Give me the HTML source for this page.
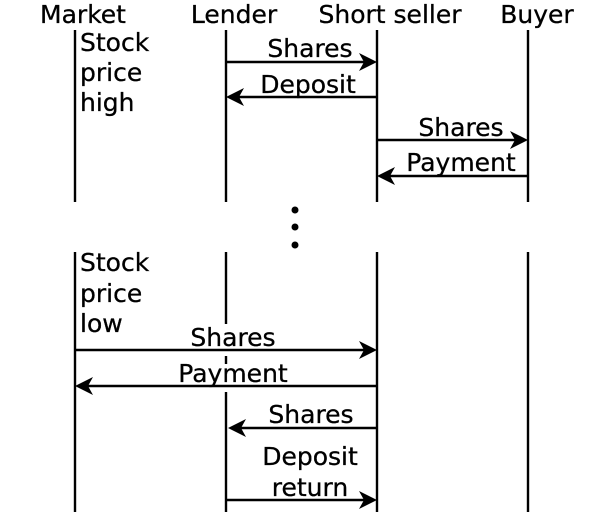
<!DOCTYPE html>
<html><head><meta charset="utf-8"><style>
html,body{margin:0;padding:0;background:#fff;}
svg{display:block;}
text{font-family:"DejaVu Sans","Liberation Sans",sans-serif;font-size:25px;fill:#000;stroke:#000;stroke-width:0.3px;}
</style></head><body>
<svg width="612" height="512" viewBox="0 0 612 512" xmlns="http://www.w3.org/2000/svg">
<g stroke="#000" stroke-width="2.4" fill="none">
<line x1="75" y1="30" x2="75" y2="202"/>
<line x1="226" y1="30" x2="226" y2="202"/>
<line x1="377" y1="30" x2="377" y2="202"/>
<line x1="528" y1="30" x2="528" y2="202"/>
<line x1="75" y1="252" x2="75" y2="512"/>
<line x1="226" y1="252" x2="226" y2="324"/>
<line x1="226" y1="356" x2="226" y2="364"/>
<line x1="226" y1="392" x2="226" y2="512"/>
<line x1="377" y1="252" x2="377" y2="512"/>
<line x1="528" y1="252" x2="528" y2="512"/>
<line x1="226" y1="62" x2="366" y2="62"/>
<line x1="237" y1="97" x2="377" y2="97"/>
<line x1="377" y1="140" x2="517" y2="140"/>
<line x1="388" y1="176" x2="528" y2="176"/>
<line x1="75" y1="350" x2="366" y2="350"/>
<line x1="86" y1="386" x2="377" y2="386"/>
<line x1="239" y1="428" x2="377" y2="428"/>
<line x1="226" y1="500" x2="366" y2="500"/>
</g>
<g fill="#000">
<path d="M377,62 l-18,-9 l5,9 l-5,9 z"/>
<path d="M226,97 l18,-9 l-5,9 l5,9 z"/>
<path d="M528,140 l-18,-9 l5,9 l-5,9 z"/>
<path d="M377,176 l18,-9 l-5,9 l5,9 z"/>
<path d="M377,350 l-18,-9 l5,9 l-5,9 z"/>
<path d="M75,386 l18,-9 l-5,9 l5,9 z"/>
<path d="M228,428 l18,-9 l-5,9 l5,9 z"/>
<path d="M377,500 l-18,-9 l5,9 l-5,9 z"/>
<circle cx="295" cy="210" r="3.5"/>
<circle cx="295" cy="227" r="3.5"/>
<circle cx="295" cy="245" r="3.5"/>
</g>
<text x="83" y="23" text-anchor="middle">Market</text>
<text x="234" y="23" text-anchor="middle">Lender</text>
<text x="390" y="23" text-anchor="middle">Short seller</text>
<text x="537" y="23" text-anchor="middle">Buyer</text>
<text x="80" y="51">Stock</text>
<text x="80" y="81">price</text>
<text x="80" y="111">high</text>
<text x="310" y="57" text-anchor="middle">Shares</text>
<text x="308" y="93" text-anchor="middle">Deposit</text>
<text x="461" y="136" text-anchor="middle">Shares</text>
<text x="461" y="171" text-anchor="middle">Payment</text>
<text x="80" y="271">Stock</text>
<text x="80" y="302">price</text>
<text x="80" y="332">low</text>
<text x="233" y="346" text-anchor="middle">Shares</text>
<text x="233" y="382" text-anchor="middle">Payment</text>
<text x="311" y="423" text-anchor="middle">Shares</text>
<text x="310" y="465" text-anchor="middle">Deposit</text>
<text x="310" y="496" text-anchor="middle">return</text>
</svg>
</body></html>
